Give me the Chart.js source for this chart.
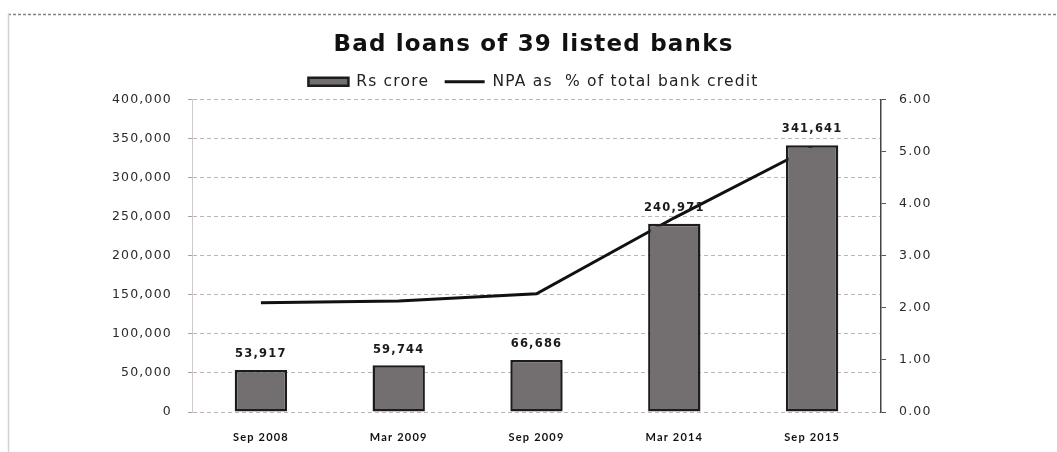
<!DOCTYPE html>
<html>
<head>
<meta charset="utf-8">
<title>Bad loans of 39 listed banks</title>
<script src="https://cdn.jsdelivr.net/npm/chart.js@4"></script>
<style>
  html, body { margin: 0; padding: 0; background: #fff; }
  #wrap { width: 1057px; height: 452px; }
</style>
</head>
<body>
<div id="wrap"><canvas id="npaChart" width="1057" height="452"></canvas></div>
<script>
// data
const categories = ["Sep 2008", "Mar 2009", "Sep 2009", "Mar 2014", "Sep 2015"];
const badLoans = [53917, 59744, 66686, 240971, 341641];   // Rs crore
const npaPercent = [2.10, 2.13, 2.27, 3.73, 5.09];         // NPA as % of total bank credit
const leftTicks = [0, 50000, 100000, 150000, 200000, 250000, 300000, 350000, 400000];
const rightTicks = [0, 1, 2, 3, 4, 5, 6];

const WIDE = "'DejaVu Sans', sans-serif";
const LATO = "Lato, sans-serif";
const PAD_LEFT = 10;
const PLOT_LEFT = 192, PLOT_RIGHT = 881, PLOT_BOTTOM = 412;
const TRACKING = "1.2px";

// loose letter spacing for all canvas text
const tracking = {
  id: "tracking",
  beforeUpdate(chart) { chart.ctx.letterSpacing = TRACKING; },
  beforeDraw(chart) { chart.ctx.letterSpacing = TRACKING; }
};

// page frame + value labels over the bars
const decor = {
  id: "decor",
  beforeDraw(chart) {
    const c = chart.ctx;
    c.save();
    c.fillStyle = "#fff";
    c.fillRect(0, 0, chart.width, chart.height);
    c.strokeStyle = "#8a7f82";
    c.lineWidth = 1.5;
    c.setLineDash([3, 2]);
    c.beginPath();
    c.moveTo(8, 14.5);
    c.lineTo(chart.width, 14.5);
    c.stroke();
    c.setLineDash([]);
    c.strokeStyle = "#d6d0d2";
    c.beginPath();
    c.moveTo(8.5, 14);
    c.lineTo(8.5, chart.height);
    c.stroke();
    c.restore();
  },
  afterDatasetsDraw(chart) {
    const c = chart.ctx;
    const meta = chart.getDatasetMeta(0);
    c.save();
    c.font = "bold 11.5px " + WIDE;
    c.fillStyle = "#1a1a1a";
    c.textAlign = "center";
    c.textBaseline = "bottom";
    meta.data.forEach((bar, i) => {
      c.fillText(badLoans[i].toLocaleString("en-US"), bar.x, bar.y - 10);
    });
    c.restore();
  }
};

new Chart(document.getElementById("npaChart"), {
  data: {
    labels: categories,
    datasets: [
      {
        type: "bar",
        label: "Rs crore",
        data: badLoans,
        yAxisID: "y",
        backgroundColor: "#736e70",
        borderColor: "#1c1c1c",
        borderWidth: 2.5,
        borderSkipped: false,
        barPercentage: 0.38,
        categoryPercentage: 1,
        pointStyle: "rect"
      },
      {
        type: "line",
        label: "NPA as  % of total bank credit",
        data: npaPercent,
        yAxisID: "y1",
        borderColor: "#111",
        backgroundColor: "#111",
        borderWidth: 3,
        pointRadius: 0,
        tension: 0,
        pointStyle: "line"
      }
    ]
  },
  options: {
    responsive: false,
    animation: false,
    layout: { padding: { top: 31, left: PAD_LEFT, right: 0, bottom: 0 } },
    plugins: {
      title: {
        display: true,
        text: "Bad loans of 39 listed banks",
        color: "#111",
        font: { family: WIDE, size: 23, weight: "bold" },
        padding: { top: 0, bottom: 0 }
      },
      legend: {
        display: true,
        labels: {
          color: "#222",
          font: { family: WIDE, size: 15.5 },
          usePointStyle: true,
          pointStyleWidth: 40,
          boxHeight: 8,
          padding: 15.5
        }
      },
      tooltip: { enabled: false }
    },
    scales: {
      x: {
        grid: { display: false },
        border: { display: false },
        ticks: {
          color: "#111",
          font: { family: LATO, size: 11, weight: "bold" },
          padding: 11
        },
        afterFit: (s) => { s.height = 452 - PLOT_BOTTOM; }
      },
      y: {
        position: "left",
        min: 0,
        max: 400000,
        afterBuildTicks: (s) => { s.ticks = leftTicks.map(v => ({ value: v })); },
        ticks: {
          color: "#2a2a2a",
          font: { family: WIDE, size: 12.5 },
          padding: 16,
          callback: (v) => v.toLocaleString("en-US")
        },
        grid: {
          color: "#bcb4b6",
          lineWidth: 1,
          tickLength: 4,
          tickColor: "#a9a2a4"
        },
        border: { color: "#d0cacc", dash: [4, 3] },
        afterFit: (s) => { s.width = PLOT_LEFT - PAD_LEFT; }
      },
      y1: {
        position: "right",
        min: 0,
        max: 6,
        afterBuildTicks: (s) => { s.ticks = rightTicks.map(v => ({ value: v })); },
        ticks: {
          color: "#2a2a2a",
          font: { family: WIDE, size: 12.5 },
          padding: 13,
          callback: (v) => v.toFixed(2)
        },
        grid: { drawOnChartArea: false, tickLength: 5, tickColor: "#555" },
        border: { color: "#444", width: 1.5 },
        afterFit: (s) => { s.width = 1057 - PLOT_RIGHT; }
      }
    }
  },
  plugins: [tracking, decor]
});
</script>
</body>
</html>
